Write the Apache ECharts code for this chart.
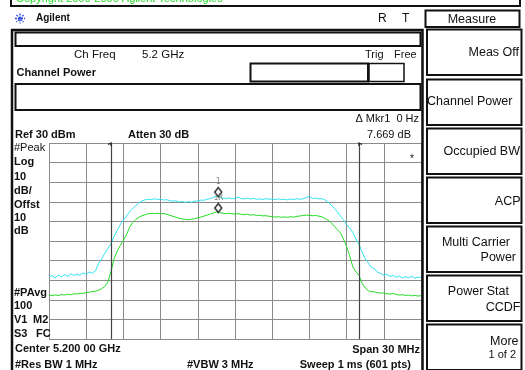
<!DOCTYPE html>
<html>
<head>
<meta charset="utf-8">
<script src="https://cdn.jsdelivr.net/npm/echarts@6/dist/echarts.min.js"></script>
<style>
  body { margin: 0; background: #fff; }
  #screen { width: 525px; height: 370px; }
</style>
</head>
<body>
<div id="screen"></div>
<script>
// sweep: center 5.2 GHz, span 30 MHz, values read every 0.25 MHz (offset from center)
const freqStartMHz = -15;
const freqStepMHz = 0.25;

// trace 1 (cyan, peak hold), dBm
const peakTrace = [
    -38.2, -37.6, -38.9, -37.3, -38.4, -37.1, -38.0, -36.8, -37.6, -36.9,
    -37.4, -36.3, -37.0, -35.8, -36.4, -35.2, -31.5, -29.0, -26.3, -23.8,
    -21.5, -17.6, -14.6, -11.7, -9.3, -7.3, -5.1, -3.5, -1.9, -0.6,
    0.5, 1.0, 1.4, 1.1, 1.6, 1.2, 1.3, 0.9, 1.1, 0.6,
    0.3, 0.5, -0.1, 0.2, -0.3, 0.1, -0.2, 0.4, 0.3, 0.9,
    0.8, 1.3, 1.7, 2.2, 3.1, 2.3, 1.9, 1.6, 2.0, 1.5,
    1.8, 2.4, 1.6, 1.5, 1.9, 1.4, 1.7, 1.3, 1.5, 1.2,
    1.6, 1.3, 1.4, 1.1, 1.5, 1.2, 1.3, 1.0, 1.4, 1.2,
    1.6, 1.3, 1.5, 2.2, 2.8, 1.7, 1.9, 1.5, 1.6, 1.0,
    -0.2, -1.6, -3.3, -5.1, -7.3, -9.2, -11.5, -13.4, -15.6, -19.0,
    -21.8, -25.5, -29.2, -31.2, -33.5, -34.2, -36.0, -36.6, -37.4, -37.0,
    -38.1, -37.6, -38.5, -37.9, -38.9, -38.2, -38.7, -38.0, -39.0, -38.4,
    -38.6
];

// trace 2 (green, power average), dBm
const avgTrace = [
    -47.6, -47.9, -47.5, -47.8, -47.3, -47.6, -47.2, -47.4, -46.9, -47.1,
    -46.6, -46.8, -46.3, -46.1, -45.8, -45.6, -45.1, -44.3, -43.2, -41.0,
    -35.5, -29.0, -25.2, -22.3, -19.6, -16.8, -13.0, -10.6, -9.0, -7.9,
    -7.1, -6.6, -6.1, -5.9, -6.0, -5.8, -6.1, -6.0, -6.4, -6.9,
    -7.4, -7.9, -8.4, -8.7, -9.0, -9.1, -8.9, -8.6, -8.2, -7.8,
    -7.3, -6.8, -6.2, -5.7, -5.2, -5.5, -5.8, -6.1, -5.8, -6.1,
    -6.3, -6.0, -6.4, -6.6, -6.3, -6.8, -6.6, -7.0, -6.8, -7.2,
    -7.1, -7.4, -7.5, -7.8, -7.6, -7.9, -7.7, -7.9, -7.6, -7.8,
    -7.4, -7.2, -7.0, -6.8, -6.9, -7.1, -7.0, -7.3, -7.6, -8.4,
    -9.4, -10.6, -12.4, -14.2, -15.8, -19.0, -22.9, -27.5, -33.2, -35.6,
    -37.5, -41.6, -43.9, -45.4, -45.8, -46.0, -46.3, -46.6, -46.5, -46.9,
    -47.1, -46.8, -47.3, -47.6, -47.4, -47.8, -47.6, -48.0, -47.7, -48.1,
    -47.9
];

// integration bandwidth edges
const channelEdgesMHz = [-10, 10];

// markers
const markerNames = ['1', '1R'];
const markerFreqsMHz = [-1.35, -1.35];
const markerLevels = [2.9, -5.2];

const refLevel = 30;
const bottomLevel = -70;

const font = '"Liberation Sans", Arial, sans-serif';
const cyan = '#2ee4f2';
const green = '#22dd22';

function toPairs(values) {
    return values.map((v, i) => [freqStartMHz + i * freqStepMHz, v]);
}

const chart = echarts.init(document.getElementById('screen'), null, { renderer: 'canvas' });

chart.setOption({
    animation: false,
    backgroundColor: '#fff',
    grid: { left: 49, top: 143, width: 372, height: 196 },
    xAxis: {
        type: 'value', min: -15, max: 15, interval: 3,
        axisLine: { show: false }, axisTick: { show: false }, axisLabel: { show: false },
        splitLine: { show: true, lineStyle: { color: '#8a8a8a', width: 1 } }
    },
    yAxis: {
        type: 'value', min: bottomLevel, max: refLevel, interval: 10,
        axisLine: { show: false }, axisTick: { show: false }, axisLabel: { show: false },
        splitLine: { show: true, lineStyle: { color: '#8a8a8a', width: 1 } }
    },
    series: [
        {
            name: 'Peak', type: 'line', showSymbol: false,
            data: toPairs(peakTrace),
            lineStyle: { color: cyan, width: 1 },
            markLine: {
                silent: true, symbol: 'none', label: { show: false },
                lineStyle: { color: '#444', width: 1.2, type: 'solid' },
                data: channelEdgesMHz.map(f => ({ xAxis: f }))
            }
        },
        {
            name: 'Average', type: 'line', showSymbol: false,
            data: toPairs(avgTrace),
            lineStyle: { color: green, width: 1 }
        },
        {
            name: 'Markers', type: 'scatter', z: 5,
            symbol: 'diamond', symbolSize: [7, 9], symbolOffset: [0, -4],
            itemStyle: { color: '#fff', borderColor: '#111', borderWidth: 1.6 },
            label: {
                show: true, position: 'top', distance: 1,
                fontSize: 8, fontFamily: 'DejaVu Sans Mono', color: '#666',
                formatter: p => markerNames[p.dataIndex]
            },
            data: markerFreqsMHz.map((f, i) => [f, markerLevels[i]])
        }
    ]
});

// screen furniture
function txt(text, x, y, opts = {}) {
    return {
        type: 'text', x: x, y: y, z: 10,
        style: {
            text: text,
            font: (opts.bold ? 'bold ' : '') + (opts.size || 11) + 'px ' + font,
            fill: opts.color || '#111',
            align: opts.align || 'left',
            verticalAlign: 'middle'
        }
    };
}
function box(x, y, w, h, lw, fill) {
    return {
        type: 'rect', z: 9,
        shape: { x: x, y: y, width: w, height: h },
        style: { fill: fill || 'none', stroke: '#111', lineWidth: lw || 2 }
    };
}

const graphics = [];
// copyright strip
graphics.push(box(11, -6, 509, 12, 2, '#fff'));
graphics.push(txt('Copyright 2000-2006 Agilent Technologies', 16, -1, { color: green }));

// Agilent logo spark
const spark = [];
for (let a = 0; a < 180; a += 45) {
    const r = a * Math.PI / 180;
    spark.push({
        type: 'line',
        shape: { x1: 20 - 5 * Math.cos(r), y1: 18.5 - 5 * Math.sin(r), x2: 20 + 5 * Math.cos(r), y2: 18.5 + 5 * Math.sin(r) },
        style: { stroke: '#2a44e0', lineWidth: 1.3, lineDash: [2, 1] }
    });
}
graphics.push({ type: 'group', z: 10, children: spark });
graphics.push(txt('Agilent', 36, 18.5, { bold: true, size: 10 }));
graphics.push(txt('R', 378, 19, { size: 12 }));
graphics.push(txt('T', 402, 19, { size: 12 }));

// main display frame
graphics.push(box(12, 30, 410.5, 350, 2.5));
graphics.push(box(15.5, 32.5, 405, 13.5, 2));
graphics.push(txt('Ch Freq', 74, 55, { size: 11.5 }));
graphics.push(txt('5.2 GHz', 142, 55, { size: 11.5 }));
graphics.push(txt('Trig', 365, 55, { size: 11 }));
graphics.push(txt('Free', 394, 55, { size: 11 }));
graphics.push(txt('Channel Power', 16.5, 73, { bold: true }));
graphics.push(box(250.5, 63.5, 117.5, 18, 2));
graphics.push(box(369, 63.5, 35, 18, 1.5));
graphics.push(box(15.5, 84, 405, 26, 2));
graphics.push(txt('\u0394 Mkr1  0 Hz', 419, 118.5, { align: 'right' }));
graphics.push(txt('7.669 dB', 411, 134.5, { align: 'right' }));
graphics.push(txt('Ref 30 dBm', 15, 134.5, { bold: true }));
graphics.push(txt('Atten 30 dB', 128, 134.5, { bold: true }));

// left annotation column
graphics.push(txt('#Peak', 14, 147.5));
[['Log', 162.3], ['10', 176.7], ['dB/', 191], ['Offst', 205], ['10', 218.3], ['dB', 231],
 ['#PAvg', 293], ['100', 306.3]].forEach(([t, y]) => graphics.push(txt(t, 14, y, { bold: true })));
graphics.push(txt('V1', 14, 320, { bold: true }));
graphics.push(txt('M2', 33, 320, { bold: true }));
graphics.push(txt('S3', 14, 333.5, { bold: true }));
graphics.push(txt('FC', 36, 333.5, { bold: true }));
graphics.push(txt('*', 410, 159, { size: 10 }));

// bottom annotations
graphics.push(txt('Center 5.200 00 GHz', 15, 348.5, { bold: true }));
graphics.push(txt('#Res BW 1 MHz', 15, 364.5, { bold: true }));
graphics.push(txt('#VBW 3 MHz', 187, 364.5, { bold: true }));
graphics.push(txt('Span 30 MHz', 420, 349.5, { bold: true, align: 'right' }));
graphics.push(txt('Sweep 1 ms (601 pts)', 411, 364.5, { bold: true, align: 'right' }));

// softkey menu
graphics.push(box(425.5, 10.5, 94, 16.5, 2));
graphics.push(txt('Measure', 472, 19.5, { size: 12.5, align: 'center' }));
const keyTops = [29.5, 79.5, 128.5, 177.5, 226.5, 275.5, 324.5];
keyTops.forEach(y => graphics.push(box(427, y, 94.5, 45.5, 2)));
graphics.push(txt('Meas Off', 519, 53, { size: 12.5, align: 'right' }));
graphics.push(txt('Channel Power', 427, 102, { size: 12.5 }));
graphics.push(txt('Occupied BW', 520, 152, { size: 12.5, align: 'right' }));
graphics.push(txt('ACP', 520.5, 201.5, { size: 12.5, align: 'right' }));
graphics.push(txt('Multi Carrier', 510, 242.5, { size: 12.5, align: 'right' }));
graphics.push(txt('Power', 516, 258, { size: 12.5, align: 'right' }));
graphics.push(txt('Power Stat', 509, 291.5, { size: 12.5, align: 'right' }));
graphics.push(txt('CCDF', 520.5, 307.5, { size: 12.5, align: 'right' }));
graphics.push(txt('More', 518.5, 341.5, { size: 12.5, align: 'right' }));
graphics.push(txt('1 of 2', 516, 355, { size: 11, align: 'right' }));

// little hooks at the top of the channel edge lines
channelEdgesMHz.forEach((f, i) => {
    const p = chart.convertToPixel({ gridIndex: 0 }, [f, refLevel]);
    const dir = i === 0 ? -1 : 1;
    graphics.push({
        type: 'polyline', z: 11,
        shape: { points: [[p[0], p[1] + 3], [p[0], p[1]], [p[0] + dir * 3, p[1] + 1.5]] },
        style: { stroke: '#222', lineWidth: 1.3, fill: 'none' }
    });
});

chart.setOption({ graphic: graphics });
</script>
</body>
</html>
